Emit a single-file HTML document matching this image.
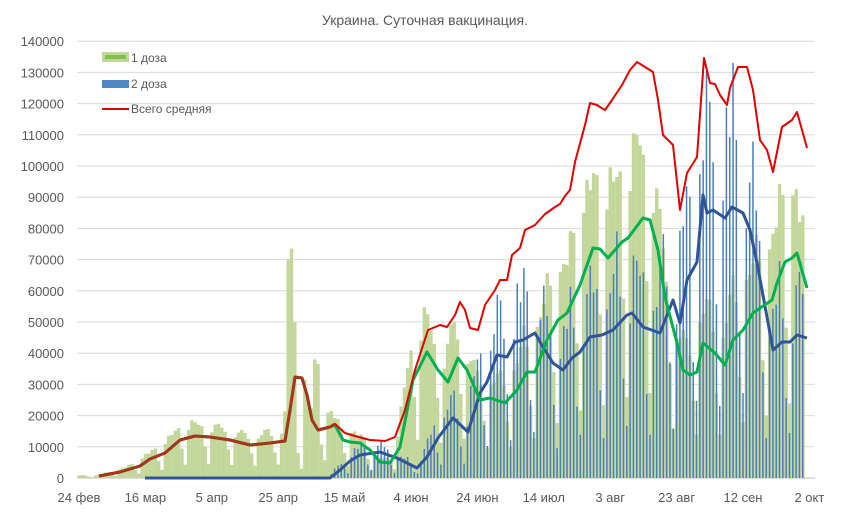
<!DOCTYPE html>
<html><head><meta charset="utf-8">
<style>
html,body{margin:0;padding:0;background:#fff;}
svg{display:block;font-family:"Liberation Sans","DejaVu Sans",sans-serif;}
</style></head>
<body>
<svg id="c" width="850" height="530" viewBox="0 0 850 530" xmlns="http://www.w3.org/2000/svg">
<rect width="850" height="530" fill="#fff"/>
<text x="425" y="25" text-anchor="middle" font-size="14" fill="#595959">Украина. Суточная вакцинация.</text>
<g id="grid"></g>
<g id="bars1"></g>
<g id="bars2"></g>
<g id="lines"></g>
<g id="labels" font-size="13" fill="#595959"></g>
<g font-size="12" fill="#595959">
<rect x="102" y="52" width="27" height="10" fill="#c4d79b"/>
<rect x="105" y="55" width="21" height="4" fill="#7dc24a"/>
<text x="131" y="62">1 доза</text>
<rect x="102" y="80" width="27" height="8" fill="#4f88c6"/>
<text x="131" y="88">2 доза</text>
<line x1="102" y1="109" x2="129" y2="109" stroke="#e00000" stroke-width="2"/>
<text x="131" y="113">Всего средняя</text>
</g>
</svg>
<script>
var NS="http://www.w3.org/2000/svg";
function el(t,a,p){var e=document.createElementNS(NS,t);for(var k in a)e.setAttribute(k,a[k]);document.getElementById(p).appendChild(e);return e;}
var Y0=478,K=31.2;
for(var i=0;i<=14;i++){var y=Y0-K*i;
 el("line",{x1:77,x2:815,y1:y,y2:y,stroke:i==0?"#bfbfbf":"#d9d9d9","stroke-width":1},"grid");
 var t=el("text",{x:64,y:y+5,"text-anchor":"end"},"labels");t.textContent=String(i*10000);}
var xl=["24 фев","16 мар","5 апр","25 апр","15 май","4 июн","24 июн","14 июл","3 авг","23 авг","12 сен","2 окт"];
for(var i=0;i<xl.length;i++){var t=el("text",{x:79+i*66.4,y:502,"text-anchor":"middle"},"labels");t.textContent=xl[i];}

var red=[[99,476],[120,472],[140,466],[150,459],[165,453],[180,440],[195,436],[210,437],[230,440],[250,445],[270,443],[285,441],[290,410],[295,377],[302,378],[307,395],[312,420],[318,430],[330,427],[335,424],[345,433],[355,436],[370,440],[385,441],[395,437],[405,410],[415,370],[428,330],[440,325],[447,327],[455,315],[460,302],[465,310],[470,328],[478,330],[485,305],[495,290],[500,280],[507,280],[512,255],[520,248],[525,230],[535,225],[545,214],[555,207],[560,204],[565,196],[570,190],[575,162],[585,125],[590,103],[597,105],[600,107],[605,110],[612,100],[622,85],[630,70],[637,62],[645,67],[653,72],[658,100],[663,135],[673,145],[680,210],[687,173],[697,157],[704,58],[710,83],[715,84],[720,95],[727,105],[730,88],[738,67],[747,67],[753,90],[760,140],[767,150],[773,172],[782,127],[792,120],[797,112],[807,148]];
var green=[[99,476],[120,472],[140,466],[150,459],[165,453],[180,440],[195,436],[210,437],[230,440],[250,445],[270,443],[285,441],[290,410],[295,377],[302,378],[307,395],[312,420],[318,430],[330,427],[335,425],[343,440],[350,442],[360,443],[370,450],[380,462],[390,463],[400,447],[413,380],[427,352],[438,370],[448,382],[458,358],[467,370],[480,400],[490,398],[505,403],[517,390],[527,372],[535,372],[547,340],[558,320],[567,313],[580,285],[593,248],[600,249],[608,258],[622,242],[628,238],[643,218],[650,220],[658,250],[665,297],[677,343],[683,370],[690,375],[697,372],[703,343],[715,353],[725,365],[733,340],[743,330],[753,313],[772,300],[777,283],[785,262],[792,258],[797,253],[807,288]];
var blue=[[145,478],[330,478],[340,470],[350,461],[360,455],[380,452],[397,458],[417,468],[427,457],[438,438],[453,418],[468,432],[480,393],[487,382],[497,355],[507,357],[515,342],[523,340],[535,333],[543,347],[553,363],[563,370],[572,358],[580,352],[590,337],[602,335],[613,330],[627,315],[632,313],[643,327],[660,333],[673,300],[680,323],[687,280],[697,262],[703,195],[707,213],[713,210],[725,218],[732,207],[743,213],[750,230],[757,263],[767,317],[773,350],[782,342],[790,342],[797,335],[807,338]];
function interp(a,x){if(x<a[0][0]||x>a[a.length-1][0])return null;for(var i=1;i<a.length;i++){if(x<=a[i][0]){var f=(x-a[i-1][0])/(a[i][0]-a[i-1][0]);return a[i-1][1]+f*(a[i][1]-a[i-1][1]);}}return a[a.length-1][1];}
var p1=[1.32,1.36,1.25,0.72,0.35,1.2,1.3];
var p2=[1.4,1.45,1.25,0.6,0.3,1.05,1.3];
var ov={63:70000,64:73500,65:50000,66:8000,67:3000,71:38000,72:36500};
for(var d=0;d<=219;d++){
 var x=79+d*3.32;
 var g=interp(green,x+3); if(g===null){g=(d<14)?Y0-2:null;}
 if(g!==null){var v=(Y0-g)*p1[d%7]*(1+0.06*Math.sin(d*1.7));
  if(ov[d]!==undefined)v=ov[d]/10000*K;
  if(v>0.5)el("rect",{x:x-1.66,y:Y0-v,width:3.4,height:v,fill:"#c4d79b"},"bars1");}
 var b=interp(blue,x+3);
 if(b!==null&&x>330){var w=(Y0-b)*p2[d%7]*(1+0.1*Math.sin(d*2.3));
  if(w>0.5)el("rect",{x:x-0.75,y:Y0-w,width:1.5,height:w,fill:"#4a7ebb"},"bars2");}
}
function path(a){return a.map(function(p,i){return(i?"L":"M")+p[0]+" "+p[1];}).join(" ");}
el("path",{d:path(blue),fill:"none",stroke:"#2f5597","stroke-width":3,"stroke-linejoin":"round"},"lines");
el("path",{d:path(green),fill:"none",stroke:"#00b050","stroke-width":3,"stroke-linejoin":"round"},"lines");
el("path",{d:path(red),fill:"none",stroke:"#e00000","stroke-width":2,"stroke-linejoin":"round"},"lines");
var early=red.filter(function(p){return p[0]<=335;});
el("path",{d:path(early),fill:"none",stroke:"#a8321a","stroke-width":3,"stroke-linejoin":"round"},"lines");
</script>
</body></html>
